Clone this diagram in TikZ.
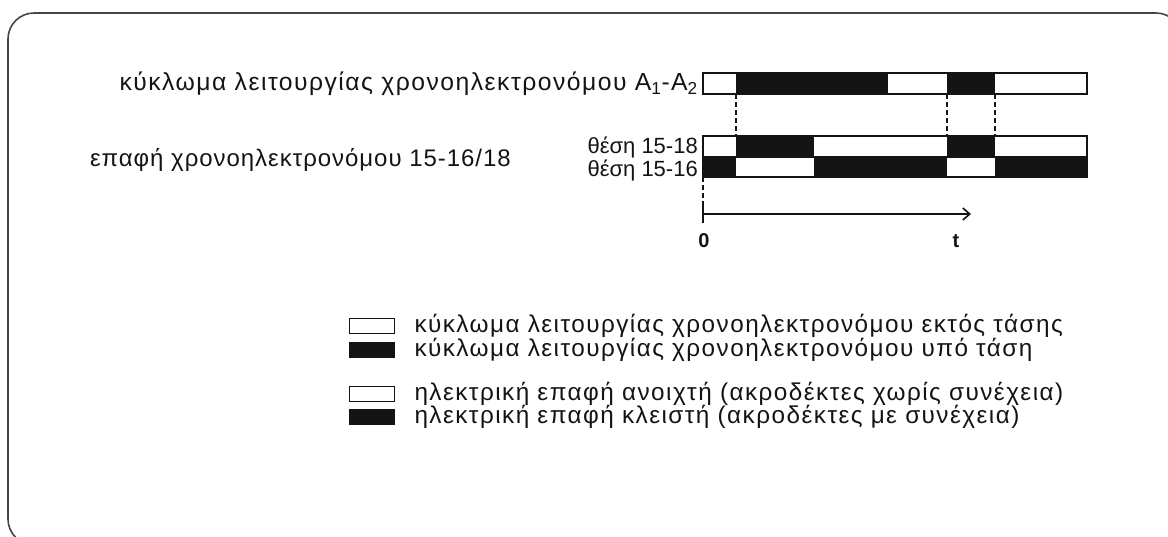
\documentclass[tikz,border=0pt]{standalone}
\usepackage{fontspec}
\setmainfont{Liberation Sans}
\usetikzlibrary{arrows.meta,positioning}
\definecolor{ink}{RGB}{20,20,20}
\definecolor{framecol}{RGB}{70,70,70}
\tikzset{
  >={Straight Barb[length=7pt,width=12pt,line width=1.6pt]},
  frame/.style={draw=framecol, line width=1.6pt, rounded corners=26pt},
  lbl/.style={font=\fontsize{24.7}{28}\selectfont\addfontfeature{LetterSpace=6},
    text=ink, inner sep=0pt},
  contlbl/.style={font=\fontsize{24}{28}\selectfont\addfontfeature{LetterSpace=4},
    text=ink, inner sep=0pt},
  poslbl/.style={font=\fontsize{22}{24}\selectfont, text=ink, inner sep=0pt},
  keylbl/.style={font=\fontsize{24.3}{28}\selectfont\addfontfeature{LetterSpace=6},
    text=ink, inner sep=0pt},
  axlbl/.style={font=\fontsize{20}{24}\selectfont\bfseries, text=ink, inner sep=0pt},
  bar/.style={draw=ink, line width=1.8pt},
  onseg/.style={fill=ink},
  guide/.style={draw=ink, line width=1.6pt, dash pattern=on 5pt off 3pt},
  axis/.style={->, draw=ink, line width=2pt},
  keybox/.style={draw=ink, line width=1.6pt, minimum width=45pt,
    minimum height=15pt, inner sep=0pt},
  keyon/.style={keybox, fill=ink},
}
\begin{document}
\begin{tikzpicture}[x=1pt,y=-1pt]
\useasboundingbox (0,0) rectangle (1168,536);

% ---------- frame ----------
\draw[frame] (8,13) rectangle (1182,545);

% ---------- row labels ----------
\node[lbl, anchor=east] (coil) at (698,84)
  {κύκλωμα λειτουργίας χρονοηλεκτρονόμου A\textsubscript{1}-A\textsubscript{2}};
\node[contlbl, anchor=east] (contact) at (511,160) {επαφή χρονοηλεκτρονόμου 15-16/18};
\node[poslbl, anchor=east] (pos18) at (698,147) {θέση 15-18};
\node[poslbl, anchor=east] (pos16) at (698,170) {θέση 15-16};

% ---------- timing bars ----------
\foreach \a/\b in {736/888,947/995} \fill[onseg] (\a,73) rectangle (\b,94);
\draw[bar] (703,73) rectangle (1087,94);
\foreach \a/\b in {736/814,947/995} \fill[onseg] (\a,136) rectangle (\b,157);
\draw[bar] (703,136) rectangle (1087,157);
\foreach \a/\b in {703/736,814/947,995/1087} \fill[onseg] (\a,157) rectangle (\b,177);
\draw[bar] (703,157) rectangle (1087,177);

% ---------- switching instants ----------
\foreach \x in {736,947,995} \draw[guide] (\x,94) -- (\x,136);
\draw[guide] (703,177) -- (703,206);

% ---------- time axis ----------
\coordinate (orig) at (703,214);
\coordinate (tend) at (971,214);
\draw[ink, line width=2pt] (703,205) -- (703,223);
\draw[axis] (orig) -- (tend);
\node[axlbl] (zero) at (704,241) {0};
\node[axlbl] (tee) at (956,241) {t};

% ---------- legend ----------
\node[keybox] (k1) at (372,326) {};
\node[keyon]  (k2) at (372,350) {};
\node[keybox] (k3) at (372,394) {};
\node[keyon]  (k4) at (372,417) {};
\node[keylbl, anchor=west, right=19pt of k1] (k1t) {κύκλωμα λειτουργίας χρονοηλεκτρονόμου εκτός τάσης};
\node[keylbl, anchor=west, right=19pt of k2] (k2t) {κύκλωμα λειτουργίας χρονοηλεκτρονόμου υπό τάση};
\node[keylbl, anchor=west, right=19pt of k3] (k3t) {ηλεκτρική επαφή ανοιχτή (ακροδέκτες χωρίς συνέχεια)};
\node[keylbl, anchor=west, right=19pt of k4] (k4t) {ηλεκτρική επαφή κλειστή (ακροδέκτες με συνέχεια)};

\end{tikzpicture}
\end{document}
